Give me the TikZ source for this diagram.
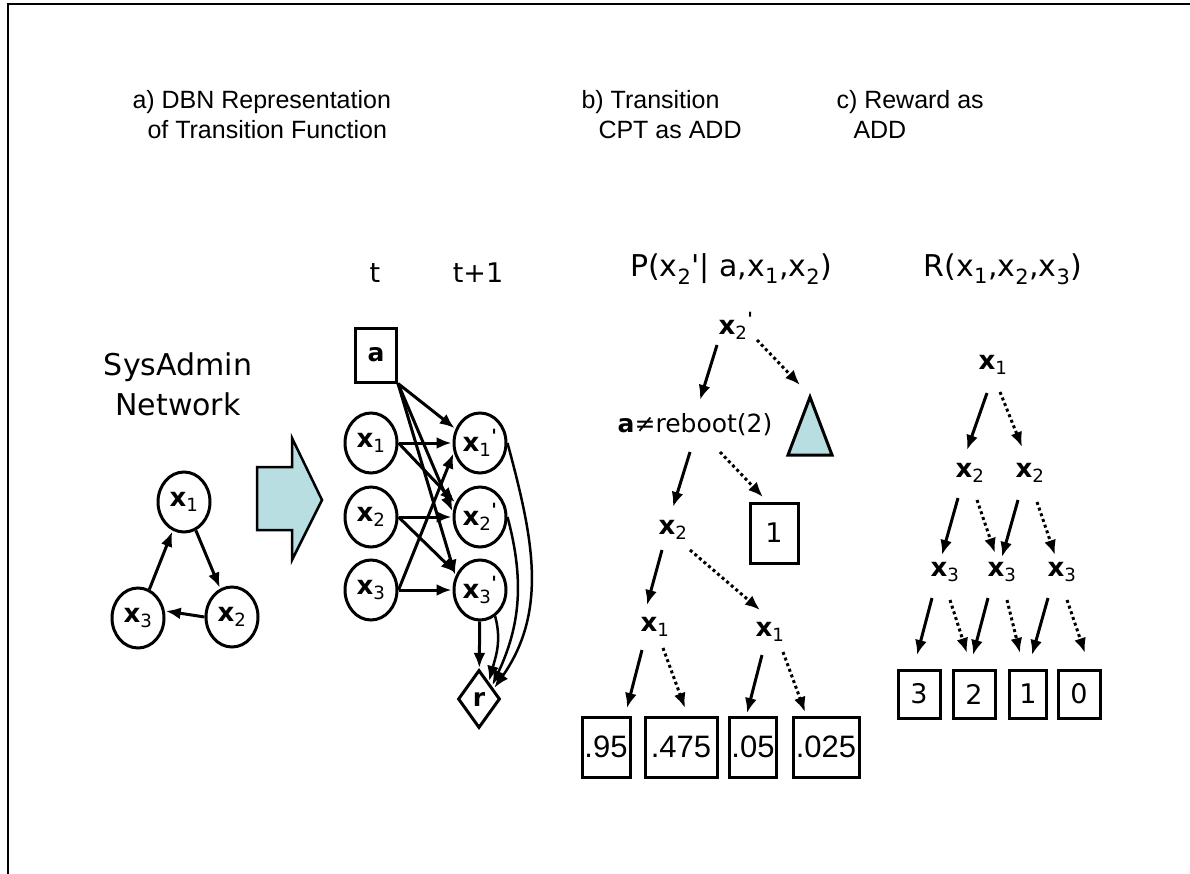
\documentclass[tikz,border=0pt]{standalone}
\usepackage{fontspec}
\setmainfont{Liberation Sans}
\newfontfamily\comic{DejaVu Sans}
\usetikzlibrary{arrows.meta,shapes.geometric}
\definecolor{addblue}{RGB}{184,222,225}
\newcommand{\csz}[1]{\comic\fontsize{#1}{#1}\selectfont}
\newcommand{\xv}[1]{{\bfseries x}\textsubscript{#1}}
\newcommand{\xvp}[1]{{\bfseries x}\textsubscript{#1}\textsuperscript{\bfseries '}}
\newcommand{\xr}[1]{x\textsubscript{#1}}
\begin{document}
\begin{tikzpicture}[x=1pt,y=-1pt,line width=3pt,>={Latex[length=15pt,width=12pt]}]
        \tikzstyle{ttl}=[anchor=base west,inner sep=0,font=\fontsize{25}{30}\selectfont]
        \tikzstyle{var}=[ellipse,draw,fill=white,minimum width=52,minimum height=60,inner sep=0,font=\csz{26}]
        \tikzstyle{tlab}=[inner sep=0,font=\csz{26}]
        \tikzstyle{pleaf}=[draw,minimum height=60,inner xsep=2,inner ysep=0,font=\fontsize{31}{36}\selectfont]
        \tikzstyle{cleaf}=[draw,minimum width=42,minimum height=48,inner sep=0,font=\csz{27}]
        \tikzstyle{arr}=[->,shorten >=1pt]
        \tikzstyle{hi}=[->]
        \tikzstyle{lo}=[->,dash pattern=on 3pt off 3pt]
        \useasboundingbox (0,0) rectangle (1190,874);
        \draw[line width=1.5pt] (8,874) -- (8,4) -- (1190,4);
        % titles
        \node[ttl] (ta1) at (131,109) {a) DBN Representation};
        \node[ttl] (ta2) at (146,139) {of Transition Function};
        \node[ttl] (tb1) at (580,109) {b) Transition};
        \node[ttl] (tb2) at (597,139) {CPT as ADD};
        \node[ttl] (tc1) at (835,109) {c) Reward as};
        \node[ttl] (tc2) at (852,139) {ADD};
        % network
        \node[align=center,inner sep=0,font=\comic\fontsize{30}{40}\selectfont] (net) at (178,384) {SysAdmin\\Network};
        \node[var] (sx1) at (184,502) {\xv{1}};
        \node[var] (sx3) at (138,618) {\xv{3}};
        \node[var] (sx2) at (232,617) {\xv{2}};
        \path[arr] (sx3) edge (sx1);
        \path[arr] (sx1) edge (sx2);
        \path[arr] (sx2.west) edge (sx3.15);
        \draw[line width=2.5pt,fill=addblue] (257,467) -- (292,467) -- (292,438) -- (322,500)
          -- (292,560) -- (292,530) -- (257,530) -- cycle;
        % DBN
        \node[anchor=base,inner sep=0,font=\csz{27}] (tnow) at (375,283) {t};
        \node[anchor=base,inner sep=0,font=\csz{27}] (tnext) at (478,283) {t+1};
        \node[draw,fill=white,minimum width=41,minimum height=54,inner sep=0,font=\csz{25}\bfseries] (act) at (376,355) {a};
        \node[var] (x1) at (371,443) {\xv{1}};
        \node[var] (x2) at (371,517) {\xv{2}};
        \node[var] (x3) at (371,590) {\xv{3}};
        \node[var] (x1p) at (480,443) {\xvp{1}};
        \node[var] (x2p) at (480,517) {\xvp{2}};
        \node[var] (x3p) at (480,590) {\xvp{3}};
        \node[diamond,draw,fill=white,minimum width=42,minimum height=58,inner sep=0,font=\csz{25}\bfseries] (rew) at (479,699) {r};
        \draw[arr] (act.south east) -- (x1p.150);
        \draw[arr] (act.south east) -- (x2p.170);
        \draw[arr] (act.south east) -- (x3p.150);
        \draw[arr] (x1) -- (x1p);
        \draw[arr] (x1.east) -- (x2p.150);
        \draw[arr] (x2) -- (x2p);
        \draw[arr] (x2.east) -- (x3p.145);
        \draw[arr] (x3) -- (x3p);
        \draw[arr] (x3.east) -- (x1p.200);
        \draw[arr] (x3p) -- (rew);
        \draw[arr,line width=2.5pt] (x3p.-60) to[out=-75,in=75] (rew.60);
        \draw[arr,line width=2.5pt] (x2p.0) to[out=-75,in=65] (rew.45);
        \draw[arr,line width=2.5pt] (x1p.0) to[out=-75,in=55] (rew.35);
        % transition ADD
        \node[anchor=base,inner sep=0,font=\csz{30}] (ptitle) at (731,277) {P(\xr{2}'| a,\xr{1},\xr{2})};
        \node[tlab] (r2) at (736,326) {\xvp{2}};
        \node[tlab,font=\csz{25}] (neq) at (695,425) {{\bfseries a}≠reboot(2)};
        \coordinate (tri) at (810,397);
        \draw[fill=addblue] (tri) -- (788,455) -- (832,455) -- cycle;
        \node[draw,minimum width=48,minimum height=60,inner sep=0,font=\csz{27}] (one) at (774,533) {1};
        \node[tlab] (x2b) at (673,530) {\xv{2}};
        \node[tlab] (x1b) at (655,627) {\xv{1}};
        \node[tlab] (x1c) at (770,632) {\xv{1}};
        \node[pleaf,minimum width=48] (p95) at (606,747) {.95};
        \node[pleaf,minimum width=72] (p475) at (681,747) {.475};
        \node[pleaf,minimum width=47] (p05) at (753,747) {.05};
        \node[pleaf,minimum width=66] (p025) at (826,747) {.025};
        \draw[hi] ([shift={(-19,19)}]r2.center) -- ([shift={(5,-25)}]neq.center);
        \draw[lo] ([shift={(21,14)}]r2.center) -- ([shift={(-10,-12)}]tri);
        \draw[hi] ([shift={(-5,27)}]neq.center) -- ([shift={(0,-23)}]x2b.center);
        \draw[lo] ([shift={(25,27)}]neq.center) -- ([shift={(-11,-36)}]one.center);
        \draw[hi] ([shift={(-11,20)}]x2b.center) -- ([shift={(-8,-22)}]x1b.center);
        \draw[lo] ([shift={(17,20)}]x2b.center) -- ([shift={(-10,-22)}]x1c.center);
        \draw[hi] ([shift={(-13,23)}]x1b.center) -- ([shift={(21,-39)}]p95.center);
        \draw[lo] ([shift={(8,21)}]x1b.center) -- ([shift={(4,-39)}]p475.center);
        \draw[hi] ([shift={(-8,23)}]x1c.center) -- ([shift={(-6,-34)}]p05.center);
        \draw[lo] ([shift={(13,20)}]x1c.center) -- ([shift={(-21,-35)}]p025.center);
        % reward ADD
        \node[anchor=base,inner sep=0,font=\csz{30}] (rtitle) at (1003,277) {R(\xr{1},\xr{2},\xr{3})};
        \node[tlab] (c1) at (993,365) {\xv{1}};
        \node[tlab] (c2a) at (970,473) {\xv{2}};
        \node[tlab] (c2b) at (1030,473) {\xv{2}};
        \node[tlab] (c3a) at (945,572) {\xv{3}};
        \node[tlab] (c3b) at (1002,572) {\xv{3}};
        \node[tlab] (c3c) at (1062,572) {\xv{3}};
        \node[cleaf] (v3) at (919,694) {3};
        \node[cleaf] (v2) at (974,694) {2};
        \node[cleaf,minimum width=37] (v1) at (1028,694) {1};
        \node[cleaf] (v0) at (1079,694) {0};
        \draw[hi] ([shift={(-6,28)}]c1.center) -- ([shift={(-3,-23)}]c2a.center);
        \draw[lo] ([shift={(7,27)}]c1.center) -- ([shift={(-8,-26)}]c2b.center);
        \draw[hi] ([shift={(-12,25)}]c2a.center) -- ([shift={(-3,-17)}]c3a.center);
        \draw[lo] ([shift={(7,27)}]c2a.center) -- ([shift={(-7,-19)}]c3b.center);
        \draw[hi] ([shift={(-12,27)}]c2b.center) -- ([shift={(0,-15)}]c3b.center);
        \draw[lo] ([shift={(7,29)}]c2b.center) -- ([shift={(-7,-17)}]c3c.center);
        \draw[hi] ([shift={(-13,26)}]c3a.center) -- ([shift={(-2,-39)}]v3.center);
        \draw[lo] ([shift={(5,28)}]c3a.center) -- ([shift={(-7,-41)}]v2.center);
        \draw[hi] ([shift={(-14,26)}]c3b.center) -- ([shift={(-1,-39)}]v2.center);
        \draw[lo] ([shift={(5,28)}]c3b.center) -- ([shift={(-8,-41)}]v1.center);
        \draw[hi] ([shift={(-14,26)}]c3c.center) -- ([shift={(4,-39)}]v1.center);
        \draw[lo] ([shift={(5,28)}]c3c.center) -- ([shift={(6,-41)}]v0.center);
\end{tikzpicture}
\end{document}
